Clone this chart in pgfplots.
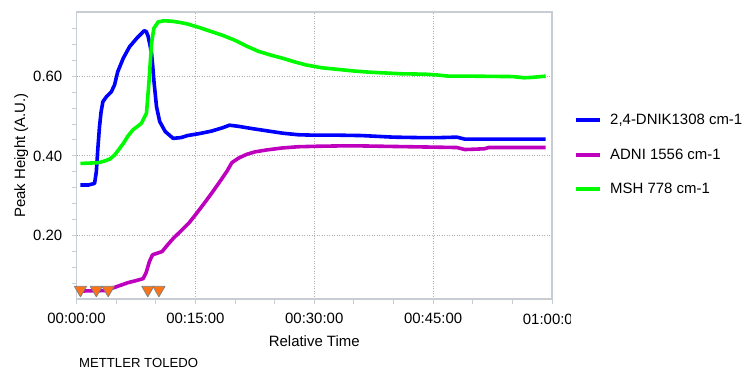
\documentclass[border=0pt]{standalone}
\usepackage{pgfplots}
\pgfplotsset{compat=1.18}
\usepackage{fontspec}
\setmainfont{Liberation Sans}
\definecolor{cblue}{RGB}{0,0,255}
\definecolor{cmag}{RGB}{190,0,190}
\definecolor{cgreen}{RGB}{0,250,0}
\definecolor{framec}{RGB}{200,205,212}
\definecolor{gridc}{RGB}{175,175,175}
\definecolor{corange}{RGB}{255,115,20}
\newcommand\tf{\fontsize{15}{18}\selectfont}
\begin{document}
\begin{tikzpicture}
\useasboundingbox (0,0) rectangle (747bp,369bp);
\begin{axis}[
  at={(76.5bp,70bp)}, anchor=south west, scale only axis,
  width=475.5bp, height=287bp,
  xmin=0, xmax=60, ymin=0.041, ymax=0.761,
  axis line style={draw=framec, line width=1.5bp},
  xtick={0,15,30,45,60},
  xticklabels={00:00:00,00:15:00,00:30:00,00:45:00,{}},
  ytick={0.2,0.4,0.6}, yticklabels={0.20,0.40,0.60},
  minor xtick={5,10,20,25,35,40,50,55},
  minor ytick={0.08,0.12,0.16,0.24,0.28,0.32,0.36,0.44,0.48,0.52,0.56,0.64,0.68,0.72},
  tick align=outside, xtick pos=bottom, ytick pos=left,
  major tick length=4.5bp, minor tick length=4.5bp,
  every tick/.style={draw=framec, line width=1bp},
  xmajorgrids=true, ymajorgrids=true,
  major grid style={draw=gridc, dash pattern=on 1bp off 1.5bp, line width=0.8bp},
  xticklabel style={font=\tf, anchor=base, inner sep=0pt, yshift=-20bp},
  yticklabel style={font=\tf, anchor=east, inner sep=0pt, xshift=-9.5bp},
  xlabel={Relative Time}, ylabel={Peak Height (A.U.)},
  xlabel style={font=\tf, at={(axis description cs:0.5,-0.166)}, anchor=base},
  ylabel style={font=\tf, at={(axis description cs:-0.108,0.5)}, anchor=base},
  legend style={at={(axis description cs:1.0457,0.502)}, anchor=west, draw=none, fill=none,
    inner sep=0pt, outer sep=0pt, row sep=22.5bp, column sep=8bp, font=\tf,
    nodes={inner sep=0pt}},
  legend cell align=left,
  legend image code/.code={\draw[#1, line width=4bp] (0bp,0bp) -- (24.5bp,0bp);},
  every axis plot/.append style={line width=3.6bp, line join=round},
]
\addplot[cblue] coordinates {
(0.5,0.327)(1.5,0.327)(2.28,0.331)(2.5,0.36)(2.7,0.42)(2.9,0.473)(3.1,0.51)(3.33,0.536)
(3.76,0.548)(4.4,0.561)(4.8,0.578)(5.2,0.611)(5.9,0.645)(6.7,0.674)(7.6,0.695)(8.2,0.707)(8.53,0.714)
(8.8,0.712)(9.04,0.70)(9.25,0.68)(9.47,0.657)(9.62,0.625)(9.76,0.59)(10.1,0.523)(10.5,0.486)(11.2,0.461)
(12.2,0.444)(13.2,0.446)(14.0,0.451)(15.5,0.456)(17.0,0.462)(18.5,0.471)(19.3,0.477)(20.5,0.474)
(22.0,0.469)(24.0,0.463)(26.0,0.457)(28.0,0.453)(30,0.452)(33,0.452)(36,0.451)(38,0.449)(40,0.447)
(43,0.446)(46,0.446)(48,0.447)(49,0.442)(52,0.442)(55,0.442)(59.2,0.442)
};
\addlegendentry{2,4-DNIK1308 cm-1}
\addplot[cmag] coordinates {
(0.5,0.061)(3.5,0.062)(4.5,0.068)(5.5,0.075)(6.5,0.082)(7.5,0.087)(8.4,0.092)(8.8,0.108)(9.2,0.135)
(9.6,0.152)(10.2,0.156)(10.8,0.16)(11.5,0.177)(12.3,0.195)(13.2,0.212)(14.2,0.232)(15.0,0.252)
(16.0,0.278)(17.0,0.305)(18.0,0.333)(19.0,0.362)(19.6,0.383)(20.5,0.395)(21.5,0.404)(22.5,0.410)
(24,0.415)(26,0.420)(28,0.423)(30,0.424)(33,0.425)(36,0.425)(39,0.424)(42,0.423)(45,0.422)(48,0.421)
(49,0.416)(50.5,0.417)(51.5,0.418)(52,0.421)(55,0.421)(59.2,0.421)
};
\addlegendentry{ADNI 1556 cm-1}
\addplot[cgreen] coordinates {
(0.5,0.381)(2.8,0.383)(3.5,0.387)(4.2,0.392)(4.8,0.402)(5.3,0.415)(5.9,0.431)(6.5,0.45)(7.1,0.465)
(7.7,0.474)(8.2,0.482)(8.6,0.498)(8.83,0.507)(9.13,0.582)(9.47,0.682)(9.76,0.72)(10.3,0.736)(11.0,0.739)
(12.0,0.738)(13.0,0.735)(14.0,0.731)(15.5,0.722)(17.0,0.712)(18.5,0.702)(20.0,0.69)(21.5,0.675)
(23,0.662)(24.5,0.653)(26,0.645)(27.5,0.636)(29,0.628)(31,0.621)(33,0.617)(35,0.613)(37,0.610)
(39,0.608)(41,0.606)(44,0.605)(45.5,0.603)(47,0.600)(50,0.600)(55,0.599)(56.5,0.596)(57.5,0.597)(59.2,0.600)
};
\addlegendentry{MSH 778 cm-1}
\addplot[forget plot, only marks, mark=triangle*, mark size=7bp,
  mark options={rotate=180, fill=corange, draw=gray, line width=0.8bp}] coordinates {
(0.5,0.064)(2.5,0.064)(4.0,0.064)(9.0,0.064)(10.4,0.064)
};
\end{axis}
\begin{scope}
\clip (505bp,30bp) rectangle (570bp,65bp);
\node[anchor=base, inner sep=0pt, font=\tf] at (552bp,44bp) {01:00:00};
\end{scope}
\node[anchor=base west, inner sep=0pt, font=\fontsize{13.2}{15}\selectfont] at (79bp,1.6bp) {METTLER TOLEDO};
\end{tikzpicture}
\end{document}
